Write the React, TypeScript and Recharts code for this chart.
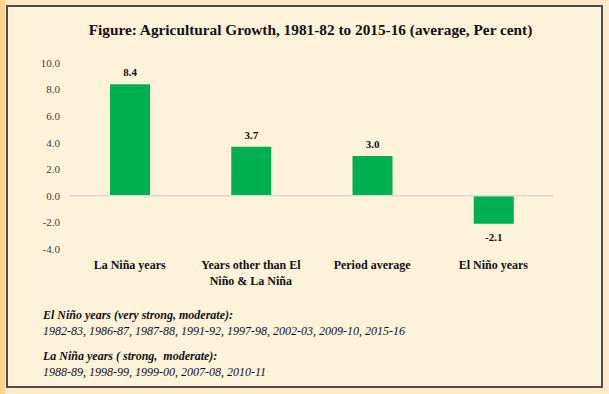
import { BarChart, Bar, XAxis, YAxis, ReferenceLine, LabelList } from 'recharts';

const categories = ['La Niña years', 'Years other than El\nNiño & La Niña', 'Period average', 'El Niño years'];
const growthValues = [8.4, 3.7, 3.0, -2.1];
const yTicks = [-4, -2, 0, 2, 4, 6, 8, 10];

const elNinoYears = ['1982-83', '1986-87', '1987-88', '1991-92', '1997-98', '2002-03', '2009-10', '2015-16'];
const laNinaYears = ['1988-89', '1998-99', '1999-00', '2007-08', '2010-11'];

const FONT = '"Liberation Serif", "Times New Roman", serif';

const data = categories.map((name, i) => ({ name, value: growthValues[i] }));

function CategoryTick({ x, y, payload }: any) {
  const lines = String(payload.value).split('\n');
  return (
    <text x={x} y={y} textAnchor="middle" fontFamily={FONT} fontSize={12} fontWeight="bold" fill="#111">
      {lines.map((line, i) => (
        <tspan key={i} x={x} dy={i === 0 ? 20 : 15.5}>
          {line}
        </tspan>
      ))}
    </text>
  );
}

function ValueLabel({ x, y, width, height, value }: any) {
  const top = Math.min(y, y + height);
  const bottom = Math.max(y, y + height);
  const ty = value >= 0 ? top - 8 : bottom + 17;
  return (
    <text x={x + width / 2} y={ty} textAnchor="middle" fontFamily={FONT} fontSize={11} fontWeight="bold" fill="#111">
      {Number(value).toFixed(1)}
    </text>
  );
}

export default function App() {
  return (
    <div
      style={{
        position: 'absolute',
        left: 0,
        top: 0,
        width: 609,
        height: 394,
        background: '#FEEACB',
        overflow: 'hidden',
        fontFamily: FONT,
      }}
    >
      <div style={{ position: 'absolute', left: 0, top: 0, width: 5, height: 394, background: '#FBD28E' }} />
      <div
        style={{
          position: 'absolute',
          left: 6,
          top: 5,
          width: 593,
          height: 379,
          background: '#FFF2DA',
          border: '2px solid #4d4d4d',
        }}
      />
      <div
        style={{
          position: 'absolute',
          left: 0,
          top: 21,
          width: 621,
          textAlign: 'center',
          fontSize: 15.3,
          lineHeight: '18px',
          fontWeight: 'bold',
          color: '#111',
        }}
      >
        Figure: Agricultural Growth, 1981-82 to 2015-16 (average, Per cent)
      </div>
      <div style={{ position: 'absolute', left: 0, top: 0 }}>
        <BarChart width={609} height={394} data={data} margin={{ top: 63, right: 55, bottom: 105, left: 39 }}>
          <XAxis
            dataKey="name"
            axisLine={false}
            tickLine={false}
            tickSize={0}
            tickMargin={0}
            interval={0}
            height={40}
            tick={<CategoryTick />}
          />
          <YAxis
            domain={[-4, 10]}
            ticks={yTicks}
            axisLine={false}
            tickLine={false}
            tickSize={0}
            tickMargin={9}
            width={30}
            tickFormatter={(v: number) => v.toFixed(1)}
            tick={{ fontFamily: FONT, fontSize: 11, fill: '#404040' }}
          />
          <ReferenceLine y={0} stroke="#D9D9D9" strokeWidth={1.5} />
          <Bar dataKey="value" fill="#00B050" barSize={40} isAnimationActive={false}>
            <LabelList dataKey="value" content={<ValueLabel />} />
          </Bar>
        </BarChart>
      </div>
      <div
        style={{
          position: 'absolute',
          left: 43,
          top: 307,
          fontSize: 12,
          lineHeight: '16px',
          fontStyle: 'italic',
          color: '#111',
        }}
      >
        <div style={{ fontWeight: 'bold' }}>El Niño years (very strong, moderate):</div>
        <div>{elNinoYears.join(', ')}</div>
        <div style={{ fontWeight: 'bold', marginTop: 9 }}>La Niña years ( strong,&nbsp; moderate):</div>
        <div>{laNinaYears.join(', ')}</div>
      </div>
    </div>
  );
}
